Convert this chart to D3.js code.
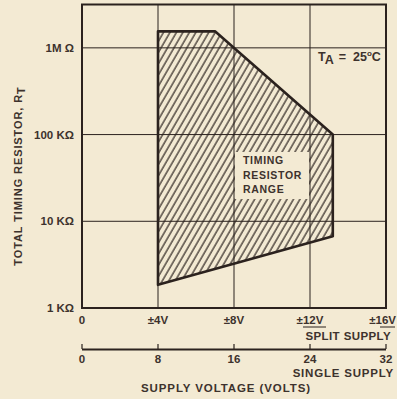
<!DOCTYPE html>
<html>
<head>
<meta charset="utf-8">
<script src="https://cdn.jsdelivr.net/npm/d3@7"></script>
<style>
  html, body { margin: 0; padding: 0; background: #f3ead3; }
  svg { display: block; }
  text { font-family: "Liberation Sans", Arial, sans-serif; fill: #3d322d; font-weight: bold; }
</style>
</head>
<body>
<script>
// Supply voltage (split, ±V) grid values and labels
const splitTicks = [0, 4, 8, 12, 16];
const splitLabels = ["0", "±4V", "±8V", "±12V", "±16V"];
// Single-supply scale (V)
const singleTicks = [0, 8, 16, 24, 32];
const singleLabels = ["0", "8", "16", "24", "32"];
// Resistance decades (ohms)
const resTicks = [1e3, 1e4, 1e5, 1e6];
const resLabels = ["1 KΩ", "10 KΩ", "100 KΩ", "1M Ω"];
// Outline of the allowed timing-resistor region (split supply V, ohms)
const regionV = [4, 7, 13.2, 13.2, 4];
const regionR = [1.55e6, 1.55e6, 1.0e5, 6.7e3, 1.85e3];

const W = 397, H = 399;
const ink = "#2b221e", paper = "#f3ead3";

const svg = d3.select("body").append("svg").attr("width", W).attr("height", H);
svg.append("rect").attr("width", W).attr("height", H).attr("fill", paper);

const x = d3.scaleLinear().domain([0, 16]).range([82, 386]);
const x2 = d3.scaleLinear().domain([0, 32]).range([82, 386]);
const y = d3.scaleLog().domain([1e3, Math.pow(10, 6.5)]).range([308, 4.5]);

// Diagonal hatch
const defs = svg.append("defs");
const pat = defs.append("pattern")
  .attr("id", "hatch").attr("patternUnits", "userSpaceOnUse")
  .attr("width", 5.6).attr("height", 10)
  .attr("patternTransform", "rotate(30)");
pat.append("line").attr("x1", 1).attr("y1", -2).attr("x2", 1).attr("y2", 12)
  .attr("stroke", ink).attr("stroke-width", 1.2);

const pts = regionV.map((v, i) => [x(v), y(regionR[i])]);
svg.append("polygon").attr("points", pts.map(p => p.join(",")).join(" "))
  .attr("fill", "url(#hatch)");

// Cleared box for the region label
svg.append("rect").attr("x", x(8) + 1).attr("y", 152)
  .attr("width", x(12) - x(8) - 2).attr("height", 47).attr("fill", paper);

// Grid
const grid = svg.append("g").attr("stroke", ink).attr("stroke-width", 1);
grid.selectAll("line.v").data(splitTicks.slice(1, -1)).join("line")
  .attr("x1", d => x(d)).attr("x2", d => x(d))
  .attr("y1", y.range()[1]).attr("y2", y.range()[0]);
grid.selectAll("line.h").data(resTicks.slice(1)).join("line")
  .attr("y1", d => y(d)).attr("y2", d => y(d))
  .attr("x1", x(0)).attr("x2", x(16));

// Region outline
svg.append("polygon").attr("points", pts.map(p => p.join(",")).join(" "))
  .attr("fill", "none").attr("stroke", ink).attr("stroke-width", 2.6)
  .attr("stroke-linejoin", "round");

// Frame
svg.append("rect").attr("x", x(0)).attr("y", y.range()[1])
  .attr("width", x(16) - x(0)).attr("height", y.range()[0] - y.range()[1])
  .attr("fill", "none").attr("stroke", ink).attr("stroke-width", 2);

// Region label
const lab = svg.append("text").attr("font-size", 10.5).attr("letter-spacing", 0.7);
["TIMING", "RESISTOR", "RANGE"].forEach((t, i) => {
  lab.append("tspan").attr("x", 243).attr("y", 164 + i * 14.5).text(t);
});

// Ambient temperature note
const ta = svg.append("text").attr("x", 318).attr("y", 61).attr("font-size", 12.5);
ta.append("tspan").text("T");
ta.append("tspan").attr("dy", 3).text("A");
ta.append("tspan").attr("dy", -3).attr("dx", 5).text("=");
ta.append("tspan").attr("dx", 7).text("25");
ta.append("tspan").attr("dy", -5).attr("font-size", 8).text("o");
ta.append("tspan").attr("dy", 5).text("C");

// Resistance labels
svg.append("g").selectAll("text").data(resTicks).join("text")
  .attr("x", 74).attr("y", d => y(d) + 4).attr("text-anchor", "end")
  .attr("font-size", 11.5).text((d, i) => resLabels[i]);

// Split-supply labels
svg.append("g").selectAll("text").data(splitTicks).join("text")
  .attr("x", d => d === 16 ? 396 : x(d)).attr("y", 324)
  .attr("text-anchor", d => d === 16 ? "end" : "middle")
  .attr("font-size", 11.5).text((d, i) => splitLabels[i]);
svg.append("line").attr("x1", x(12) - 7).attr("x2", x(12) + 16)
  .attr("y1", 327).attr("y2", 327).attr("stroke", ink).attr("stroke-width", 1);
svg.append("line").attr("x1", x(16) - 6).attr("x2", x(16) + 9)
  .attr("y1", 327).attr("y2", 327).attr("stroke", ink).attr("stroke-width", 1);
svg.append("text").attr("x", 391).attr("y", 340).attr("text-anchor", "end")
  .attr("font-size", 11.5).attr("letter-spacing", 0.4).text("SPLIT SUPPLY");

// Single-supply axis
const axis2 = svg.append("g").attr("stroke", ink);
axis2.append("line").attr("x1", x2(0)).attr("x2", x2(32)).attr("y1", 349.5).attr("y2", 349.5)
  .attr("stroke-width", 2);
axis2.selectAll("line.t").data(singleTicks).join("line")
  .attr("x1", d => x2(d)).attr("x2", d => x2(d)).attr("y1", 344).attr("y2", 349)
  .attr("stroke-width", 1.2);
svg.append("g").selectAll("text").data(singleTicks).join("text")
  .attr("x", d => x2(d)).attr("y", 363).attr("text-anchor", "middle")
  .attr("font-size", 11.5).text((d, i) => singleLabels[i]);
svg.append("text").attr("x", 394).attr("y", 377).attr("text-anchor", "end")
  .attr("font-size", 11.5).attr("letter-spacing", 0.8).text("SINGLE SUPPLY");
svg.append("text").attr("x", 226).attr("y", 392).attr("text-anchor", "middle")
  .attr("font-size", 11.5).attr("letter-spacing", 0.9).text("SUPPLY VOLTAGE (VOLTS)");

// Vertical axis title
const yt = svg.append("text").attr("transform", "translate(22,176) rotate(-90)")
  .attr("text-anchor", "middle").attr("font-size", 11).attr("letter-spacing", 0.9);
yt.append("tspan").text("TOTAL TIMING RESISTOR, R");
yt.append("tspan").attr("dy", 3).text("T");
</script>
</body>
</html>
